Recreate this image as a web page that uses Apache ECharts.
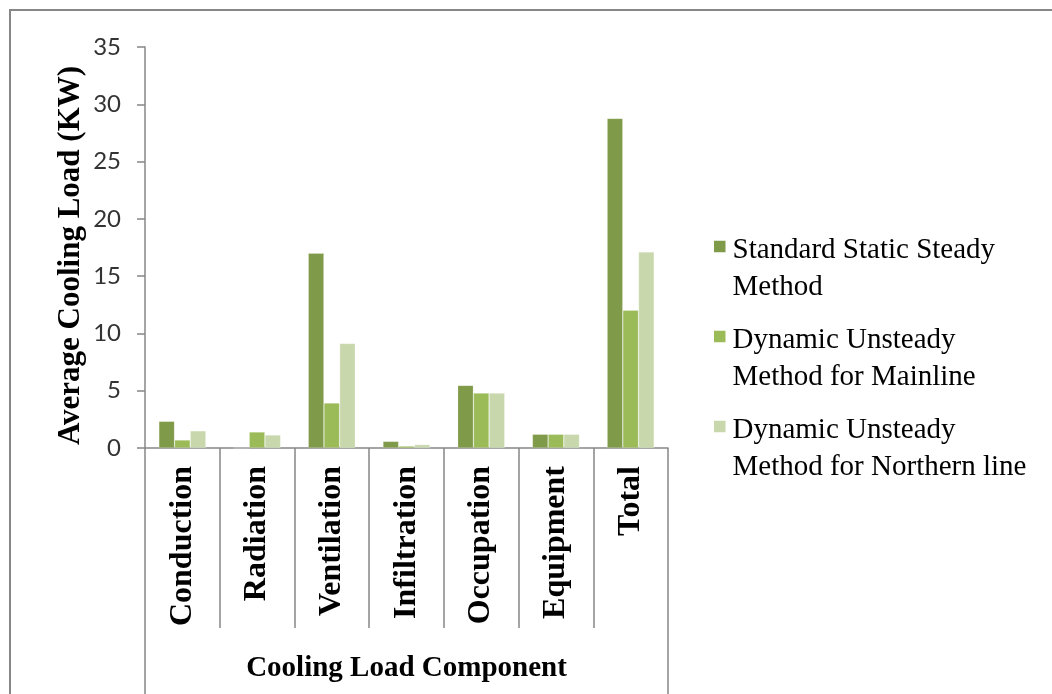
<!DOCTYPE html>
<html>
<head>
<meta charset="utf-8">
<script src="https://cdn.jsdelivr.net/npm/echarts@6/dist/echarts.min.js"></script>
<style>
  html, body { margin: 0; padding: 0; background: #ffffff; }
  #chart { width: 1052px; height: 694px; }
</style>
</head>
<body>
<div id="chart"></div>
<script>
// Cooling load components (kW) for three calculation methods
const categories = ['Conduction', 'Radiation', 'Ventilation', 'Infiltration', 'Occupation', 'Equipment', 'Total'];
const seriesNames = [
  'Standard Static Steady\nMethod',
  'Dynamic Unsteady\nMethod for Mainline',
  'Dynamic Unsteady\nMethod for Northern line'
];
const staticSteady   = [2.33, 0, 17.0, 0.58, 5.47, 1.2, 28.77];
const mainline       = [0.7, 1.4, 3.93, 0.17, 4.8, 1.2, 12.03];
const northernLine   = [1.5, 1.14, 9.13, 0.3, 4.8, 1.2, 17.12];
const yTicks = { min: 0, max: 35, interval: 5 };
const groupLabel = 'Cooling Load Component';
const yTitle = 'Average Cooling Load (KW)';

const colors = ['#7F9A48', '#9BBB59', '#C8D8AC'];
const axisGray = '#878787';
const serif = '"Liberation Serif", "Times New Roman", serif';

// square marker sitting on the first text line of each two-line legend entry
const legendIcon = 'path://M0 0H0.01 M0 3H10V13H0Z M0 55H0.01';

const chart = echarts.init(document.getElementById('chart'), null, { renderer: 'canvas' });

const barSeries = [staticSteady, mainline, northernLine].map((vals, i) => ({
  name: seriesNames[i],
  type: 'bar',
  data: vals,
  xAxisIndex: 0,
  barGap: '0%',
  barCategoryGap: '37%',
  itemStyle: { color: colors[i], borderColor: 'rgba(255,255,255,0.35)', borderWidth: 0.6 },
  emphasis: { disabled: true },
  animation: false
}));

chart.setOption({
  animation: false,
  backgroundColor: '#ffffff',
  graphic: [{
    type: 'rect',
    shape: { x: 10, y: 10, width: 1100, height: 760 },
    style: { fill: 'none', stroke: axisGray, lineWidth: 2 },
    silent: true
  }],
  grid: { left: 145, right: 384, top: 47, bottom: 246, outerBoundsMode: 'none', containLabel: false },
  legend: {
    orient: 'vertical',
    left: 714,
    top: 232,
    padding: 0,
    itemWidth: 11.5,
    itemHeight: 68.75,
    itemGap: 16,
    icon: legendIcon,
    itemStyle: { borderWidth: 0 },
    selectedMode: false,
    textStyle: { fontFamily: serif, fontSize: 29, lineHeight: 37, color: '#000000', padding: [0, 0, 0, 2] },
    data: seriesNames
  },
  xAxis: [{
    type: 'category',
    data: categories,
    position: 'bottom',
    axisLine: { show: true, lineStyle: { color: axisGray, width: 1.5 } },
    axisTick: { show: true, interval: 0, length: 180, lineStyle: { color: axisGray, width: 1.5 } },
    axisLabel: {
      interval: 0, rotate: 90, margin: 18,
      fontFamily: serif, fontWeight: 'bold', fontSize: 32, color: '#000000'
    },
    splitLine: { show: false }
  }, {
    type: 'category',
    data: [''],
    position: 'bottom',
    axisLine: { show: false },
    axisTick: { show: true, interval: 0, length: 250, lineStyle: { color: axisGray, width: 1.5 } },
    axisLabel: { show: false },
    splitLine: { show: false },
    name: groupLabel,
    nameLocation: 'middle',
    nameGap: 206,
    nameTextStyle: { fontFamily: serif, fontWeight: 'bold', fontSize: 29, color: '#000000' }
  }],
  yAxis: {
    type: 'value',
    min: yTicks.min, max: yTicks.max, interval: yTicks.interval,
    axisLine: { show: true, lineStyle: { color: axisGray, width: 1.5 } },
    axisTick: { show: true, length: 8, lineStyle: { color: axisGray, width: 1.5 } },
    splitLine: { show: false },
    axisLabel: { margin: 24, fontFamily: 'Lato, "Open Sans", sans-serif', fontSize: 24, color: '#333333' },
    name: yTitle,
    nameLocation: 'middle',
    nameGap: 59,
    nameTextStyle: { fontFamily: serif, fontWeight: 'bold', fontSize: 31, color: '#000000', padding: [0, 16, 0, 0] }
  },
  series: barSeries
});
</script>
</body>
</html>
